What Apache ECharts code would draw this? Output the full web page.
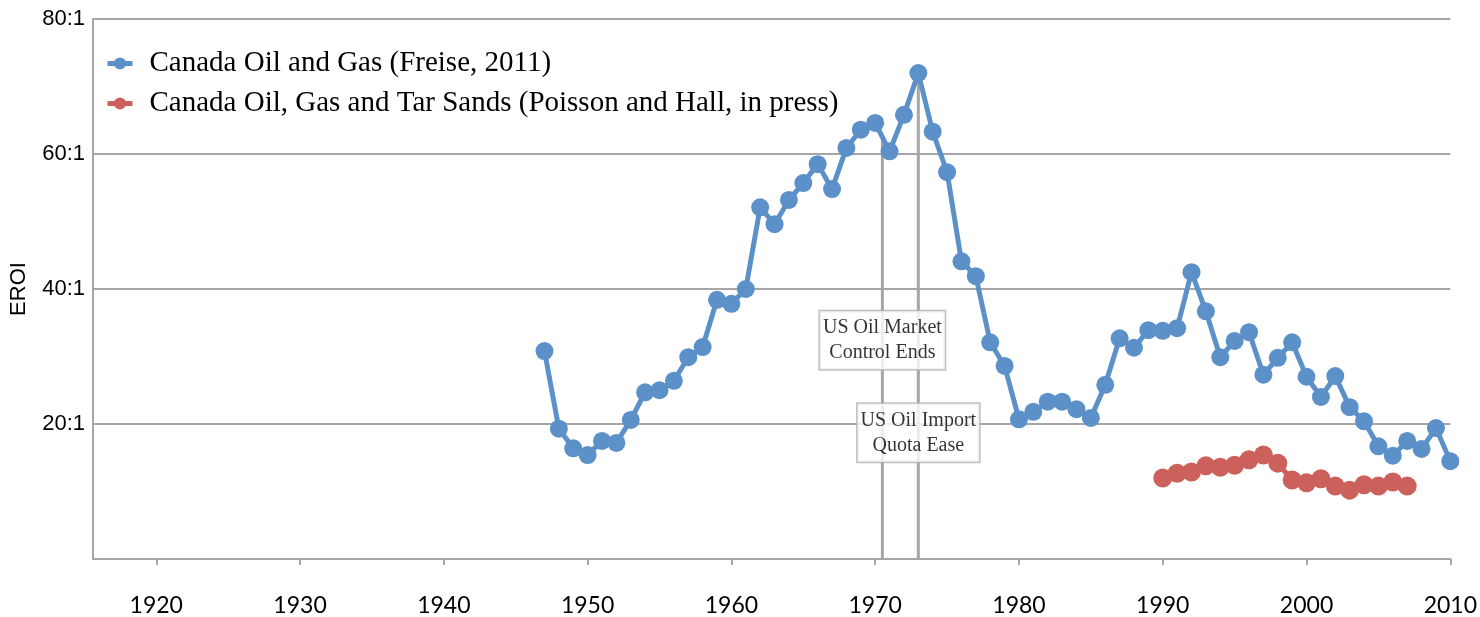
<!DOCTYPE html>
<html>
<head>
  <meta charset="UTF-8">
  <script src="https://cdn.jsdelivr.net/npm/echarts@6/dist/echarts.min.js"></script>
  <style>
    html, body { margin: 0; padding: 0; background: #fff; }
    #chart { width: 1480px; height: 617px; }
  </style>
</head>
<body>
<div id="chart"></div>
<script>
  // Canada Oil and Gas (Freise, 2011)
  var freiseYears = [1947,1948,1949,1950,1951,1952,1953,1954,1955,1956,1957,1958,1959,1960,
    1961,1962,1963,1964,1965,1966,1967,1968,1969,1970,1971,1972,1973,1974,1975,1976,1977,1978,1979,
    1980,1981,1982,1983,1984,1985,1986,1987,1988,1989,1990,1991,1992,1993,1994,1995,1996,1997,1998,
    1999,2000,2001,2002,2003,2004,2005,2006,2007,2008,2009,2010];
  var freiseEroi = [30.8,19.3,16.4,15.4,17.5,17.2,20.6,24.7,25.0,26.4,29.9,31.4,38.4,37.8,
    40.0,52.1,49.6,53.2,55.7,58.5,54.8,60.9,63.6,64.6,60.4,65.8,72.0,63.3,57.3,44.1,41.9,32.1,28.6,
    20.7,21.8,23.3,23.3,22.2,20.9,25.8,32.7,31.3,33.9,33.8,34.2,42.5,36.7,29.9,32.3,33.6,27.3,29.8,
    32.1,27.0,24.0,27.1,22.5,20.4,16.7,15.3,17.5,16.3,19.4,14.5];

  // Canada Oil, Gas and Tar Sands (Poisson and Hall, in press)
  var poissonYears = [1990,1991,1992,1993,1994,1995,1996,1997,1998,1999,2000,2001,2002,2003,2004,2005,2006,2007];
  var poissonEroi = [12.0,12.7,12.9,13.8,13.6,13.9,14.7,15.4,14.2,11.7,11.3,11.9,10.8,10.2,11.0,10.8,11.4,10.8];

  // event markers
  var eventYears = [1970.5, 1973];
  var eventTops = [62.5, 72.0];
  var eventLabels = ['US Oil Market\nControl Ends', 'US Oil Import\nQuota Ease'];
  var eventLabelY = [32.4, 18.7];

  var xTicks = [1920,1930,1940,1950,1960,1970,1980,1990,2000,2010];

  var blue = '#5b90c8', red = '#cc605a', gray = '#a6a6a6';
  var serif = 'Liberation Serif';

  function pairs(xs, ys) {
    return xs.map(function (x, i) { return [x, ys[i]]; });
  }

  var eventSeries = eventYears.map(function (yr, i) {
    return {
      type: 'line',
      data: [[yr, 0], [yr, eventTops[i]]],
      symbol: 'none',
      silent: true,
      z: 1,
      lineStyle: { color: gray, width: 3 }
    };
  });

  var chart = echarts.init(document.getElementById('chart'));
  chart.setOption({
    animation: false,
    backgroundColor: '#fff',
    grid: { left: 93, right: 29, top: 19, bottom: 58 },
    legend: {
      orient: 'vertical',
      left: 100,
      top: 44,
      itemGap: 11,
      itemWidth: 25,
      itemHeight: 15,
      lineStyle: { width: 5 },
      data: ['Canada Oil and Gas (Freise, 2011)', 'Canada Oil, Gas and Tar Sands (Poisson and Hall, in press)'],
      textStyle: { fontFamily: serif, fontSize: 29, color: '#000', padding: [0, 0, 0, 12] }
    },
    xAxis: {
      type: 'value',
      min: 1915.6,
      max: 2010,
      axisLine: { lineStyle: { color: gray, width: 2 } },
      axisTick: { show: true, customValues: xTicks, length: 6, lineStyle: { color: gray, width: 2 } },
      axisLabel: {
        customValues: xTicks, margin: 35, fontFamily: 'Lato', fontSize: 23, color: '#000',
        formatter: function (v) { return String(v); }
      },
      splitLine: { show: false }
    },
    yAxis: {
      type: 'value',
      min: 0,
      max: 80,
      interval: 20,
      name: 'EROI',
      nameLocation: 'middle',
      nameGap: 63,
      nameTextStyle: { fontFamily: 'Liberation Sans', fontSize: 22, color: '#000' },
      axisLine: { show: true, lineStyle: { color: gray, width: 2 } },
      axisTick: { show: false },
      axisLabel: {
        margin: 8,
        fontFamily: 'Liberation Sans', fontSize: 22, color: '#000',
        formatter: function (v) { return v === 0 ? '' : v + ':1'; }
      },
      splitLine: { lineStyle: { color: gray, width: 2 } }
    },
    series: eventSeries.concat([
      {
        name: 'Canada Oil and Gas (Freise, 2011)',
        type: 'line',
        data: pairs(freiseYears, freiseEroi),
        symbol: 'circle',
        symbolSize: 18,
        z: 3,
        itemStyle: { color: blue },
        lineStyle: { color: blue, width: 5 }
      },
      {
        name: 'Canada Oil, Gas and Tar Sands (Poisson and Hall, in press)',
        type: 'line',
        data: pairs(poissonYears, poissonEroi),
        symbol: 'circle',
        symbolSize: 19,
        z: 3,
        itemStyle: { color: red },
        lineStyle: { color: red, width: 5 }
      },
      {
        type: 'scatter',
        data: eventYears.map(function (yr, i) { return [yr, eventLabelY[i]]; }),
        symbolSize: 0,
        silent: true,
        z: 5,
        label: {
          show: true,
          position: 'inside',
          formatter: function (p) { return eventLabels[p.dataIndex]; },
          fontFamily: serif,
          fontSize: 20,
          lineHeight: 25,
          color: '#000',
          backgroundColor: '#fff',
          borderColor: '#b0b0b0',
          borderWidth: 1.5,
          padding: [4, 3, 4, 3]
        }
      }
    ])
  });
</script>
</body>
</html>
